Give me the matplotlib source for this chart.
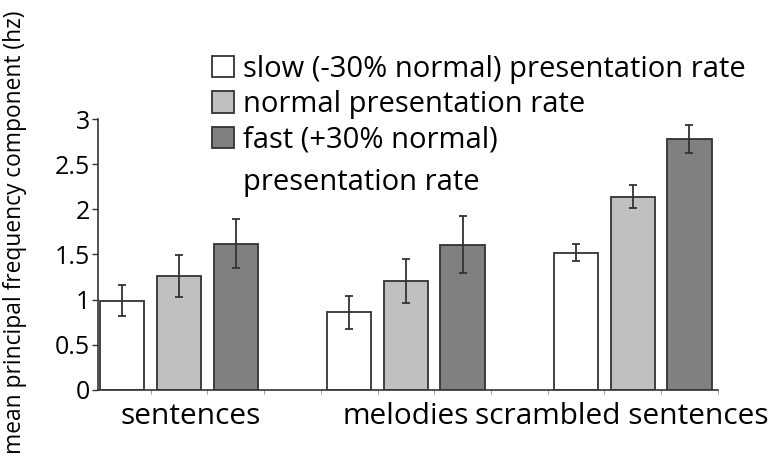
import matplotlib
matplotlib.use("Agg")
import matplotlib.pyplot as plt
import numpy as np

plt.rcParams['font.family'] = ['Open Sans', 'DejaVu Sans']

categories = ["sentences", "melodies", "scrambled sentences"]
series_names = ["slow (-30% normal) presentation rate",
                "normal presentation rate",
                "fast (+30% normal)\npresentation rate"]
slow = [0.99, 0.86, 1.52]
slow_err = [0.175, 0.185, 0.095]
normal = [1.26, 1.21, 2.14]
normal_err = [0.235, 0.245, 0.13]
fast = [1.62, 1.61, 2.78]
fast_err = [0.27, 0.32, 0.155]
yticks = [0, 0.5, 1, 1.5, 2, 2.5, 3]
ytick_labels = ["0", "0.5", "1", "1.5", "2", "2.5", "3"]

fig = plt.figure(figsize=(7.71, 4.68), dpi=100)
ax = fig.add_axes([0.127, 0.1667, 0.804, 0.579])

colors = ["#ffffff", "#c0c0c0", "#808080"]
edge = "#333333"
group_pos = np.array([0, 4, 8])
width = 0.78
handles = []
for i, (vals, errs) in enumerate([(slow, slow_err), (normal, normal_err), (fast, fast_err)]):
    b = ax.bar(group_pos + i, vals, width=width, color=colors[i], edgecolor=edge,
               linewidth=1.3, yerr=errs,
               error_kw=dict(ecolor="#333333", elinewidth=1.3, capsize=3, capthick=1.3))
    handles.append(b)

ax.set_xlim(-0.43, 10.45)
ax.set_ylim(0, 3)
ax.set_yticks(yticks)
ax.set_yticklabels(ytick_labels, fontsize=18)
label_offsets = np.array([0.2, 0.0, -0.2])
ax.set_xticks(group_pos + 1 + label_offsets)
ax.set_xticklabels(categories, fontsize=21.5)
ax.tick_params(axis='x', length=0, pad=9)
ax.set_xticks(np.arange(0.5, 11, 1), minor=True)
ax.tick_params(axis='x', which='minor', length=3, color="#888888")
ax.tick_params(axis='y', length=4, width=1, pad=1.5, color="#333333")
for s in ["top", "right"]:
    ax.spines[s].set_visible(False)
for s in ["left", "bottom"]:
    ax.spines[s].set_color("#333333")
    ax.spines[s].set_linewidth(1.2)

ax.set_ylabel("mean principal frequency component (hz)", fontsize=16.4)
ax.yaxis.set_label_coords(-0.115, 0.583)

# legend: first line of each name beside its box; wrapped remainder drawn below
first_lines = [n.split("\n")[0] for n in series_names]
leg = fig.legend(handles=handles, labels=first_lines, loc="upper left",
                 bbox_to_anchor=(0.275, 0.883), frameon=False, fontsize=21,
                 handlelength=0.76, handleheight=0.76, handletextpad=0.3,
                 labelspacing=0.22, borderaxespad=0, borderpad=0)
fig.canvas.draw()
renderer = fig.canvas.get_renderer()
for i, name in enumerate(series_names):
    parts = name.split("\n")
    if len(parts) > 1:
        bb = leg.get_texts()[i].get_window_extent(renderer)
        for k, extra in enumerate(parts[1:], start=1):
            fig.text(bb.x0 / fig.bbox.width,
                     (bb.y0 - 42 * k) / fig.bbox.height,
                     extra, fontsize=21, ha="left", va="bottom")

fig.savefig("out.png", dpi=100)
